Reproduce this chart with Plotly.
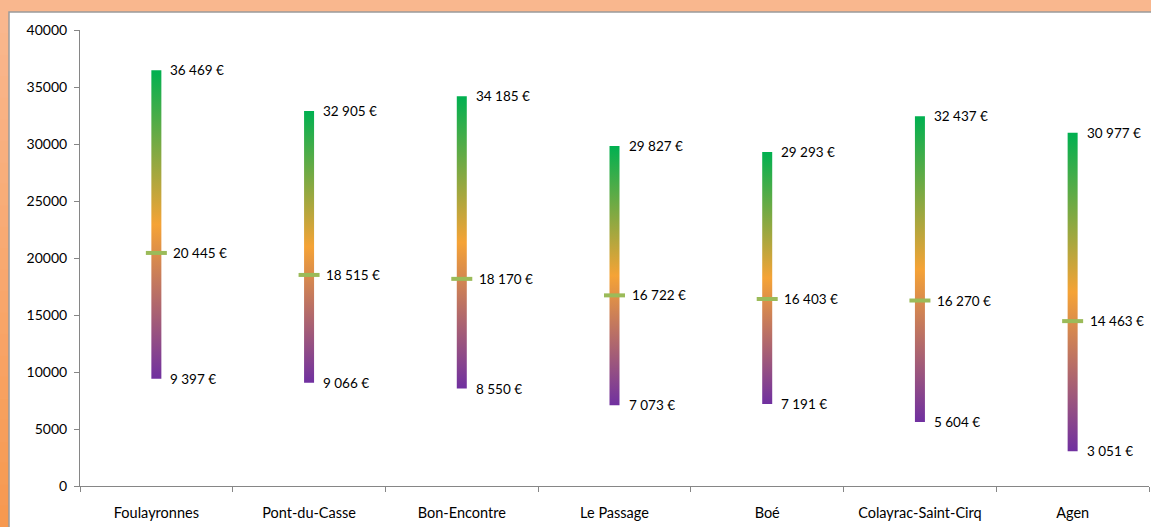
import plotly.graph_objects as go

# ---- data ----
communes = ["Foulayronnes", "Pont-du-Casse", "Bon-Encontre", "Le Passage",
            "Boé", "Colayrac-Saint-Cirq", "Agen"]
minimum = [9397, 9066, 8550, 7073, 7191, 5604, 3051]
mediane = [20445, 18515, 18170, 16722, 16403, 16270, 14463]
maximum = [36469, 32905, 34185, 29827, 29293, 32437, 30977]
y_ticks = [0, 5000, 10000, 15000, 20000, 25000, 30000, 35000, 40000]

# ---- layout geometry ----
W, H = 1151, 527
ML, MR, MT, MB = 80, 2, 30, 41
PW, PH = W - ML - MR, H - MT - MB
FONT = "Lato"
AXIS_COL = "#868686"


def px_x(px):
    return (px - ML) / PW


def px_y(py):
    return (H - MB - py) / PH


def fmt(v):
    return f"{v:,}".replace(",", "\u00a0") + "\u00a0€"


fig = go.Figure()

half_w = 5.0 / (PW / len(communes))
scale = [[0.0, "#7030A0"], [0.5, "#F5A336"], [1.0, "#00B050"]]

for i, (lo, hi) in enumerate(zip(minimum, maximum)):
    fig.add_trace(go.Scatter(
        x=[i - half_w, i + half_w, i + half_w, i - half_w, i - half_w],
        y=[lo, lo, hi, hi, lo],
        mode="lines",
        line=dict(width=0, color="rgba(0,0,0,0)"),
        fill="toself",
        fillgradient=dict(type="vertical", colorscale=scale, start=lo, stop=hi),
        hoverinfo="skip",
        showlegend=False,
    ))

fig.add_trace(go.Scatter(
    x=list(range(len(communes))), y=mediane,
    mode="markers",
    marker=dict(symbol="line-ew", size=15, line=dict(width=4, color="#9BBB59")),
    showlegend=False,
))

annotations = []
for series, shift in ((maximum, 12), (mediane, 15), (minimum, 12)):
    for i, v in enumerate(series):
        annotations.append(dict(
            x=i, y=v, xref="x", yref="y", text=fmt(v), showarrow=False,
            xanchor="left", yanchor="middle", xshift=shift,
            font=dict(family=FONT, size=13.5, color="#000000"),
        ))

shapes = []
# top strip
shapes.append(dict(type="rect", xref="paper", yref="paper", layer="below",
                   x0=px_x(0), x1=px_x(W), y0=px_y(12), y1=px_y(0),
                   fillcolor="#F9B78E", line=dict(width=0)))
# left strip with gradient (light at top, saturated at bottom)
n = 24
c0 = (249, 183, 142)
c1 = (247, 153, 80)
for k in range(n):
    t = k / (n - 1)
    col = "rgb(%d,%d,%d)" % tuple(round(a + (b - a) * t) for a, b in zip(c0, c1))
    ya = 12 + (H - 12) * k / n
    yb = 12 + (H - 12) * (k + 1) / n + 0.5
    shapes.append(dict(type="rect", xref="paper", yref="paper", layer="below",
                       x0=px_x(0), x1=px_x(9), y0=px_y(yb), y1=px_y(ya),
                       fillcolor=col, line=dict(width=0)))
# white chart area with gray border
shapes.append(dict(type="rect", xref="paper", yref="paper", layer="below",
                   x0=px_x(9), x1=px_x(W + 5), y0=px_y(H + 5), y1=px_y(12),
                   fillcolor="#FFFFFF", line=dict(width=1.5, color="#9A9A9A")))

fig.update_layout(
    width=W, height=H,
    margin=dict(l=ML, r=MR, t=MT, b=MB, pad=0, autoexpand=False),
    paper_bgcolor="#F9B78E",
    plot_bgcolor="#FFFFFF",
    font=dict(family=FONT, size=14, color="#000000"),
    showlegend=False,
    annotations=annotations,
    shapes=shapes,
    xaxis=dict(
        range=[-0.5, len(communes) - 0.5],
        tickvals=list(range(len(communes))), ticktext=communes,
        ticks="", showline=True, linecolor=AXIS_COL, linewidth=1,
        showgrid=False, zeroline=False, automargin=False,
        minor=dict(tickvals=[i - 0.5 for i in range(len(communes) + 1)],
                   ticks="outside", ticklen=5, tickcolor=AXIS_COL, showgrid=False),
        tickfont=dict(family=FONT, size=14.5, color="#000000"),
        ticklabelstandoff=14,
        fixedrange=True,
    ),
    yaxis=dict(
        range=[0, 40000], tickvals=y_ticks, tickformat="d",
        ticks="outside", ticklen=5, tickcolor=AXIS_COL,
        showline=True, linecolor=AXIS_COL, linewidth=1,
        showgrid=False, zeroline=False, automargin=False,
        tickfont=dict(family=FONT, size=14, color="#000000"),
        ticklabelstandoff=4,
        fixedrange=True,
    ),
)

fig.write_html(
    "out.html",
    config={"displayModeBar": False},
    post_script="document.body.style.margin='0';document.body.style.overflow='hidden';",
)
